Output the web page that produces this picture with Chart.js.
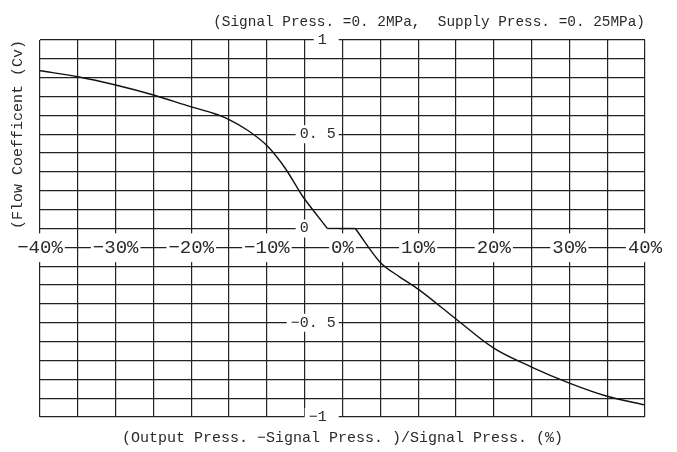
<!DOCTYPE html>
<html>
<head>
<meta charset="utf-8">
<script src="https://cdn.jsdelivr.net/npm/chart.js@4"></script>
<style>
  html, body { margin: 0; padding: 0; background: #fff; }
  canvas { display: block; }
</style>
</head>
<body>
<canvas id="flowChart" width="677" height="452"></canvas>
<script>
// (Output - Signal)/Signal in %, and the flow coefficient.
// The curve has a dead band at Cv = 0, so it is kept in three pieces.
const upperX = [-40, -35, -30, -25, -20, -17, -15, -12.5, -10, -7.6, -5.2, -3.9, -2];
const upperCv = [0.837, 0.805, 0.761, 0.708, 0.645, 0.61, 0.578, 0.52, 0.44, 0.321, 0.167, 0.098, 0];
const deadBandX = [-2, 1.7];
const deadBandCv = [0, 0];
const lowerX = [1.7, 5, 7.5, 10, 15, 20, 25, 30, 35, 40];
const lowerCv = [0, -0.18, -0.255, -0.322, -0.48, -0.635, -0.735, -0.82, -0.89, -0.936];

const xTickLabels = { '-40': '−40%', '-30': '−30%', '-20': '−20%', '-10': '−10%', '0': '0%', '10': '10%', '20': '20%', '30': '30%', '40': '40%' };
// trailing spaces push the short labels left of the 0% line, as in the original
const yTickLabels = { '1': '1 ', '0.5': '0. 5', '0': '0   ', '-0.5': '−0. 5', '-1': '−1 ' };

const chartTitle = '(Signal Press. =0. 2MPa,  Supply Press. =0. 25MPa)';
const xTitle = '(Output Press. −Signal Press. )/Signal Press. (%)';
const yTitle = '(Flow Coefficent (Cv)';

const lineColor = '#222';
const textColor = '#2a2a2a';
const mono = 'Liberation Mono';

function yKey(v) {
    return String(Math.round(v * 10) / 10);
}

function curvePiece(xs, ys) {
    return {
        data: xs.map((x, i) => ({ x: x, y: ys[i] })),
        borderColor: '#111',
        borderWidth: 1.4,
        pointRadius: 0,
        fill: false,
        cubicInterpolationMode: 'monotone',
        xAxisID: 'x',
        yAxisID: 'y'
    };
}

let ctx = document.getElementById('flowChart').getContext('2d');
new Chart(ctx, {
    type: 'line',
    data: {
        datasets: [
            curvePiece(upperX, upperCv),
            curvePiece(deadBandX, deadBandCv),
            curvePiece(lowerX, lowerCv)
        ]
    },
    options: {
        responsive: false,
        animation: false,
        layout: { padding: { left: 0, right: 32, top: 0, bottom: 0 } },
        plugins: {
            legend: { display: false },
            tooltip: { enabled: false },
            title: {
                display: true,
                text: chartTitle,
                align: 'end',
                color: textColor,
                font: { family: mono, size: 14.4, weight: 'normal' },
                padding: { top: 13.4, bottom: 9.3 }
            }
        },
        scales: {
            x: {
                type: 'linear',
                position: { y: -0.1 },
                min: -40,
                max: 40,
                grid: { color: lineColor, lineWidth: 1.2, drawTicks: false, z: -1 },
                border: { display: false },
                ticks: {
                    stepSize: 5,
                    autoSkip: false,
                    maxRotation: 0,
                    padding: -11,
                    color: textColor,
                    font: { family: mono, size: 19 },
                    showLabelBackdrop: (c) => c.tick && xTickLabels[String(c.tick.value)] !== undefined,
                    backdropColor: '#fff',
                    backdropPadding: { top: 3, bottom: 3, left: 2, right: 2 },
                    callback: (v) => xTickLabels[String(v)] || ''
                }
            },
            y: {
                type: 'linear',
                position: { x: -0.9 },
                min: -1,
                max: 1,
                grid: { color: lineColor, lineWidth: 1.2, drawTicks: false, z: -1 },
                border: { display: false },
                ticks: {
                    stepSize: 0.1,
                    autoSkip: false,
                    padding: 0,
                    color: textColor,
                    font: { family: mono, size: 15 },
                    showLabelBackdrop: (c) => c.tick && yTickLabels[yKey(c.tick.value)] !== undefined,
                    backdropColor: '#fff',
                    backdropPadding: { top: 0, bottom: 0, left: 4, right: 3 },
                    callback: (v) => yTickLabels[yKey(v)] || ''
                }
            },
            xTitleAxis: {
                type: 'linear',
                position: 'bottom',
                grid: { display: false, drawTicks: false },
                border: { display: false },
                ticks: { display: false },
                title: {
                    display: true,
                    text: xTitle,
                    color: textColor,
                    font: { family: mono, size: 15 },
                    padding: { top: 12, bottom: 5 }
                }
            },
            yTitleAxis: {
                type: 'linear',
                position: 'left',
                grid: { display: false, drawTicks: false },
                border: { display: false },
                ticks: { display: false },
                title: {
                    display: true,
                    text: yTitle,
                    align: 'end',
                    color: textColor,
                    font: { family: mono, size: 15 },
                    padding: { top: 9, bottom: 13 }
                }
            }
        }
    }
});
</script>
</body>
</html>
